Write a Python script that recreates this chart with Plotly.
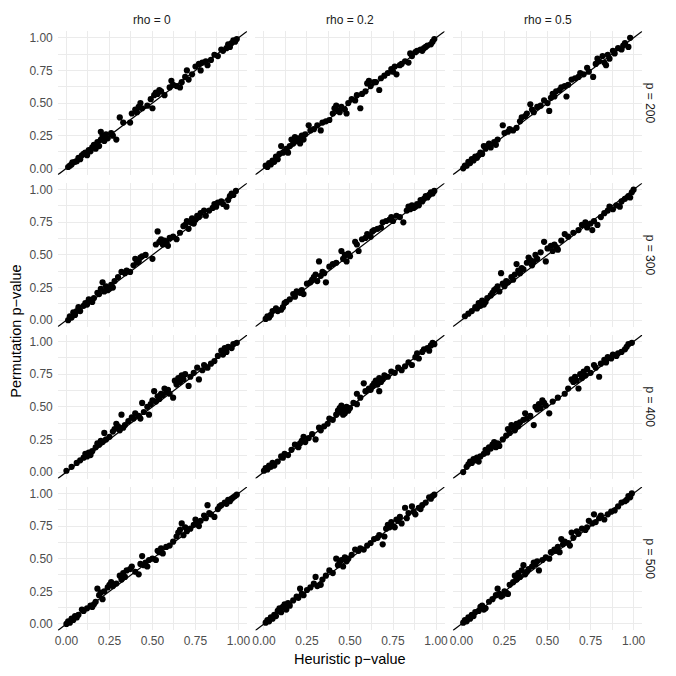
import plotly.graph_objects as go

# ---------------- data ----------------
rho_labels = ["rho = 0", "rho = 0.2", "rho = 0.5"]
p_labels = ["p = 200", "p = 300", "p = 400", "p = 500"]
tick_vals = [0, 0.25, 0.5, 0.75, 1.0]
tick_text = ["0.00", "0.25", "0.50", "0.75", "1.00"]
minor_vals = [0.125, 0.375, 0.625, 0.875]

heur_p200_rho0 = [0.01,0.02,0.03,0.035,0.05,0.06,0.07,0.08,0.09,0.10,0.11,0.12,0.13,0.14,0.15,0.16,0.17,0.18,0.19,0.20,0.20,0.21,0.22,0.23,0.24,0.26,0.27,0.29,0.31,0.33,0.37,0.38,0.40,0.41,0.42,0.43,0.44,0.47,0.49,0.50,0.51,0.52,0.53,0.54,0.55,0.57,0.60,0.61,0.62,0.64,0.66,0.67,0.69,0.70,0.71,0.73,0.75,0.77,0.78,0.79,0.81,0.82,0.84,0.86,0.88,0.90,0.91,0.93,0.94,0.95,0.96,0.97,0.98,0.99]
perm_p200_rho0 = [0.01,0.02,0.03,0.045,0.05,0.055,0.08,0.07,0.10,0.11,0.12,0.10,0.14,0.13,0.16,0.18,0.15,0.20,0.17,0.22,0.28,0.25,0.21,0.26,0.23,0.27,0.25,0.22,0.39,0.35,0.35,0.42,0.45,0.43,0.47,0.50,0.46,0.48,0.53,0.46,0.56,0.58,0.57,0.60,0.59,0.56,0.62,0.67,0.64,0.63,0.62,0.66,0.70,0.75,0.68,0.72,0.78,0.80,0.75,0.81,0.82,0.79,0.83,0.87,0.86,0.91,0.90,0.92,0.95,0.93,0.96,0.98,0.97,0.99]

heur_p200_rho02 = [0.01,0.02,0.03,0.04,0.05,0.06,0.07,0.08,0.09,0.10,0.11,0.12,0.13,0.14,0.15,0.16,0.17,0.18,0.19,0.20,0.21,0.22,0.23,0.24,0.26,0.27,0.29,0.31,0.33,0.34,0.36,0.38,0.40,0.41,0.42,0.43,0.44,0.45,0.47,0.48,0.49,0.51,0.53,0.54,0.56,0.57,0.59,0.60,0.61,0.62,0.64,0.65,0.67,0.68,0.70,0.72,0.74,0.75,0.76,0.77,0.79,0.80,0.82,0.84,0.85,0.86,0.88,0.89,0.91,0.92,0.93,0.94,0.95,0.97,0.98,0.99]
perm_p200_rho02 = [0.02,0.01,0.04,0.03,0.06,0.05,0.09,0.07,0.11,0.17,0.12,0.13,0.15,0.12,0.17,0.22,0.19,0.24,0.21,0.23,0.19,0.25,0.22,0.26,0.33,0.29,0.30,0.33,0.29,0.35,0.36,0.37,0.42,0.46,0.48,0.44,0.43,0.47,0.45,0.42,0.50,0.53,0.52,0.56,0.46,0.57,0.59,0.65,0.67,0.63,0.66,0.66,0.60,0.69,0.71,0.73,0.76,0.74,0.78,0.72,0.79,0.80,0.82,0.81,0.88,0.86,0.89,0.90,0.91,0.90,0.92,0.93,0.94,0.95,0.97,0.99]

heur_p200_rho05 = [0.01,0.02,0.03,0.04,0.05,0.06,0.07,0.08,0.09,0.10,0.11,0.12,0.13,0.14,0.15,0.16,0.17,0.19,0.20,0.21,0.24,0.25,0.27,0.28,0.30,0.32,0.34,0.35,0.37,0.38,0.40,0.41,0.42,0.44,0.46,0.48,0.50,0.51,0.52,0.53,0.54,0.55,0.57,0.58,0.60,0.61,0.62,0.64,0.66,0.68,0.69,0.71,0.73,0.74,0.765,0.78,0.79,0.80,0.82,0.83,0.84,0.85,0.86,0.88,0.89,0.91,0.93,0.94,0.95,0.97,0.98]
perm_p200_rho05 = [0.00,0.02,0.02,0.05,0.04,0.07,0.06,0.09,0.08,0.10,0.12,0.11,0.17,0.15,0.17,0.19,0.16,0.20,0.18,0.22,0.33,0.27,0.28,0.30,0.29,0.31,0.36,0.39,0.40,0.42,0.49,0.45,0.43,0.47,0.48,0.52,0.50,0.44,0.54,0.57,0.55,0.59,0.60,0.62,0.63,0.55,0.64,0.68,0.69,0.70,0.73,0.72,0.77,0.74,0.70,0.80,0.84,0.82,0.86,0.81,0.79,0.87,0.84,0.90,0.88,0.92,0.91,0.94,0.96,0.93,1.00]

heur_p300_rho0 = [0.01,0.02,0.03,0.04,0.05,0.06,0.07,0.08,0.10,0.11,0.12,0.13,0.14,0.15,0.16,0.18,0.19,0.20,0.21,0.22,0.23,0.24,0.25,0.26,0.27,0.28,0.30,0.32,0.34,0.35,0.37,0.39,0.40,0.41,0.42,0.43,0.44,0.46,0.50,0.52,0.53,0.54,0.55,0.56,0.57,0.58,0.59,0.60,0.62,0.64,0.66,0.68,0.69,0.70,0.71,0.72,0.73,0.74,0.75,0.76,0.77,0.78,0.80,0.81,0.83,0.85,0.86,0.87,0.88,0.90,0.91,0.93,0.94,0.95,0.96,0.97,0.985]
perm_p300_rho0 = [0.00,0.03,0.02,0.06,0.04,0.07,0.10,0.07,0.11,0.13,0.12,0.16,0.15,0.14,0.17,0.21,0.20,0.24,0.29,0.22,0.26,0.23,0.24,0.27,0.25,0.30,0.33,0.37,0.36,0.38,0.37,0.42,0.47,0.44,0.45,0.48,0.49,0.50,0.47,0.58,0.68,0.60,0.62,0.58,0.61,0.60,0.57,0.63,0.64,0.62,0.67,0.72,0.73,0.76,0.70,0.75,0.78,0.74,0.77,0.80,0.79,0.82,0.84,0.80,0.84,0.86,0.89,0.87,0.90,0.91,0.89,0.87,0.92,0.95,0.97,0.96,0.99]

heur_p300_rho02 = [0.01,0.02,0.03,0.04,0.05,0.07,0.08,0.10,0.11,0.12,0.13,0.15,0.17,0.18,0.19,0.21,0.22,0.23,0.25,0.27,0.28,0.29,0.30,0.31,0.32,0.33,0.34,0.35,0.36,0.38,0.40,0.42,0.45,0.46,0.47,0.48,0.49,0.50,0.53,0.54,0.55,0.57,0.59,0.60,0.62,0.63,0.64,0.66,0.68,0.69,0.71,0.73,0.74,0.75,0.77,0.79,0.81,0.83,0.84,0.85,0.86,0.87,0.88,0.89,0.90,0.91,0.92,0.93,0.94,0.95,0.96,0.97,0.98,0.99]
perm_p300_rho02 = [0.01,0.03,0.02,0.04,0.07,0.09,0.07,0.08,0.10,0.13,0.14,0.16,0.20,0.18,0.22,0.21,0.23,0.20,0.28,0.29,0.31,0.33,0.35,0.30,0.45,0.34,0.37,0.36,0.29,0.41,0.43,0.44,0.53,0.47,0.50,0.45,0.51,0.49,0.60,0.58,0.53,0.62,0.63,0.66,0.64,0.68,0.69,0.70,0.71,0.75,0.76,0.77,0.79,0.76,0.80,0.79,0.75,0.84,0.87,0.85,0.88,0.86,0.87,0.89,0.88,0.92,0.91,0.93,0.95,0.94,0.96,0.98,0.97,0.99]

heur_p300_rho05 = [0.02,0.04,0.06,0.08,0.09,0.10,0.11,0.12,0.13,0.14,0.15,0.17,0.18,0.19,0.20,0.21,0.22,0.23,0.24,0.25,0.26,0.27,0.29,0.30,0.31,0.32,0.33,0.34,0.35,0.36,0.38,0.39,0.40,0.41,0.42,0.43,0.44,0.46,0.48,0.49,0.50,0.52,0.53,0.54,0.55,0.56,0.58,0.60,0.62,0.65,0.68,0.70,0.72,0.73,0.75,0.76,0.77,0.79,0.81,0.83,0.85,0.86,0.88,0.90,0.92,0.93,0.95,0.97,0.98,0.99,1.00]
perm_p300_rho05 = [0.03,0.05,0.07,0.10,0.09,0.13,0.11,0.15,0.12,0.14,0.17,0.19,0.21,0.23,0.24,0.26,0.22,0.36,0.28,0.26,0.30,0.29,0.33,0.31,0.35,0.43,0.38,0.36,0.40,0.39,0.44,0.48,0.46,0.42,0.45,0.50,0.47,0.52,0.60,0.45,0.55,0.57,0.53,0.58,0.56,0.54,0.61,0.66,0.64,0.67,0.69,0.73,0.75,0.71,0.74,0.69,0.76,0.73,0.79,0.82,0.84,0.87,0.85,0.88,0.87,0.91,0.93,0.95,0.94,0.98,1.00]

heur_p400_rho0 = [0.00,0.03,0.06,0.08,0.10,0.11,0.12,0.13,0.14,0.15,0.17,0.18,0.19,0.20,0.21,0.22,0.23,0.25,0.27,0.28,0.29,0.30,0.31,0.32,0.33,0.34,0.36,0.38,0.39,0.40,0.42,0.43,0.44,0.45,0.47,0.48,0.49,0.50,0.51,0.52,0.53,0.54,0.55,0.56,0.57,0.58,0.59,0.60,0.62,0.63,0.64,0.65,0.66,0.67,0.68,0.69,0.71,0.72,0.74,0.76,0.77,0.79,0.80,0.82,0.84,0.86,0.88,0.90,0.91,0.92,0.93,0.94,0.96,0.97,0.99]
perm_p400_rho0 = [0.01,0.04,0.07,0.09,0.11,0.14,0.12,0.15,0.13,0.16,0.19,0.22,0.21,0.24,0.23,0.30,0.25,0.27,0.31,0.33,0.37,0.35,0.32,0.44,0.34,0.36,0.39,0.42,0.41,0.45,0.43,0.41,0.53,0.46,0.50,0.44,0.52,0.55,0.62,0.54,0.58,0.56,0.60,0.59,0.64,0.61,0.63,0.60,0.57,0.70,0.67,0.72,0.69,0.74,0.71,0.75,0.66,0.73,0.76,0.80,0.71,0.78,0.82,0.80,0.83,0.85,0.89,0.93,0.90,0.95,0.92,0.96,0.95,0.98,0.99]

heur_p400_rho02 = [0.00,0.01,0.02,0.03,0.04,0.05,0.06,0.08,0.10,0.11,0.12,0.14,0.16,0.18,0.20,0.21,0.22,0.23,0.24,0.26,0.28,0.30,0.32,0.33,0.35,0.37,0.38,0.40,0.42,0.43,0.44,0.45,0.45,0.46,0.47,0.47,0.48,0.49,0.50,0.52,0.54,0.54,0.56,0.58,0.59,0.61,0.62,0.63,0.64,0.65,0.66,0.67,0.67,0.68,0.69,0.70,0.72,0.74,0.76,0.78,0.80,0.82,0.84,0.86,0.88,0.89,0.90,0.92,0.93,0.95,0.96,0.97,0.98,0.99]
perm_p400_rho02 = [0.01,0.03,0.02,0.05,0.04,0.07,0.05,0.08,0.12,0.11,0.14,0.13,0.17,0.21,0.19,0.22,0.24,0.27,0.23,0.26,0.29,0.25,0.34,0.32,0.35,0.37,0.41,0.40,0.44,0.47,0.49,0.46,0.51,0.44,0.48,0.45,0.50,0.47,0.49,0.53,0.52,0.60,0.57,0.68,0.62,0.64,0.63,0.66,0.68,0.70,0.67,0.62,0.72,0.69,0.71,0.74,0.73,0.77,0.76,0.80,0.78,0.81,0.84,0.82,0.88,0.91,0.87,0.92,0.94,0.95,0.93,0.97,0.99,0.98]

heur_p400_rho05 = [0.01,0.03,0.04,0.05,0.06,0.07,0.08,0.09,0.10,0.11,0.13,0.14,0.15,0.16,0.17,0.18,0.19,0.20,0.21,0.22,0.24,0.26,0.27,0.28,0.29,0.30,0.31,0.32,0.33,0.34,0.36,0.37,0.38,0.40,0.42,0.43,0.44,0.45,0.46,0.47,0.48,0.49,0.51,0.53,0.56,0.60,0.62,0.64,0.65,0.66,0.67,0.68,0.69,0.70,0.71,0.72,0.73,0.75,0.77,0.78,0.80,0.81,0.83,0.84,0.85,0.87,0.88,0.90,0.91,0.93,0.95,0.96,0.97,0.99]
perm_p400_rho05 = [0.00,0.04,0.06,0.08,0.07,0.10,0.09,0.11,0.08,0.12,0.14,0.17,0.15,0.19,0.18,0.21,0.23,0.19,0.22,0.20,0.25,0.28,0.33,0.30,0.36,0.34,0.32,0.37,0.35,0.38,0.40,0.45,0.41,0.43,0.36,0.50,0.48,0.52,0.49,0.55,0.53,0.51,0.45,0.54,0.57,0.60,0.64,0.71,0.69,0.73,0.70,0.64,0.75,0.72,0.77,0.74,0.79,0.76,0.82,0.80,0.73,0.83,0.86,0.84,0.88,0.87,0.90,0.89,0.91,0.92,0.94,0.96,0.98,0.99]

heur_p500_rho0 = [0.00,0.01,0.02,0.03,0.04,0.05,0.06,0.07,0.09,0.10,0.12,0.14,0.15,0.16,0.17,0.18,0.19,0.20,0.21,0.22,0.24,0.25,0.26,0.27,0.29,0.31,0.32,0.33,0.34,0.35,0.37,0.38,0.40,0.42,0.43,0.44,0.45,0.46,0.47,0.48,0.50,0.52,0.53,0.54,0.55,0.56,0.58,0.60,0.62,0.64,0.65,0.66,0.67,0.68,0.69,0.70,0.72,0.74,0.75,0.76,0.77,0.78,0.80,0.81,0.82,0.83,0.84,0.86,0.88,0.89,0.90,0.92,0.93,0.94,0.95,0.96,0.97,0.98,0.99]
perm_p500_rho0 = [0.00,0.02,0.01,0.04,0.03,0.06,0.05,0.07,0.11,0.10,0.12,0.14,0.13,0.15,0.17,0.27,0.22,0.24,0.19,0.25,0.28,0.30,0.32,0.29,0.31,0.37,0.34,0.39,0.36,0.41,0.42,0.44,0.40,0.38,0.46,0.52,0.45,0.47,0.44,0.49,0.50,0.49,0.56,0.55,0.58,0.54,0.59,0.60,0.63,0.67,0.70,0.72,0.77,0.68,0.74,0.71,0.73,0.76,0.80,0.77,0.75,0.79,0.83,0.81,0.91,0.85,0.84,0.82,0.88,0.90,0.91,0.93,0.92,0.95,0.94,0.96,0.97,0.98,0.99]

heur_p500_rho02 = [0.01,0.02,0.03,0.04,0.05,0.06,0.07,0.08,0.09,0.10,0.11,0.12,0.13,0.14,0.15,0.17,0.19,0.20,0.21,0.22,0.23,0.25,0.27,0.29,0.30,0.31,0.33,0.34,0.36,0.38,0.40,0.42,0.43,0.44,0.45,0.46,0.47,0.48,0.49,0.51,0.53,0.55,0.56,0.58,0.60,0.62,0.64,0.66,0.67,0.69,0.70,0.71,0.72,0.73,0.74,0.75,0.76,0.77,0.78,0.79,0.80,0.82,0.83,0.84,0.86,0.87,0.88,0.90,0.91,0.92,0.94,0.96,0.97,0.98,0.99]
perm_p500_rho02 = [0.01,0.03,0.02,0.05,0.04,0.07,0.06,0.10,0.12,0.09,0.13,0.15,0.11,0.16,0.14,0.18,0.21,0.20,0.27,0.23,0.22,0.26,0.28,0.31,0.36,0.29,0.30,0.34,0.37,0.41,0.39,0.50,0.45,0.47,0.49,0.44,0.51,0.48,0.50,0.53,0.57,0.56,0.58,0.57,0.60,0.62,0.65,0.66,0.68,0.61,0.67,0.73,0.76,0.74,0.78,0.75,0.74,0.80,0.79,0.82,0.77,0.89,0.81,0.85,0.90,0.86,0.84,0.89,0.88,0.91,0.93,0.97,0.96,0.98,0.99]

heur_p500_rho05 = [0.01,0.02,0.03,0.04,0.05,0.06,0.07,0.08,0.10,0.11,0.12,0.13,0.14,0.16,0.18,0.20,0.21,0.22,0.23,0.24,0.25,0.26,0.27,0.28,0.30,0.31,0.32,0.33,0.34,0.35,0.36,0.37,0.38,0.39,0.41,0.42,0.43,0.44,0.45,0.47,0.49,0.51,0.52,0.54,0.55,0.56,0.57,0.58,0.59,0.60,0.62,0.63,0.64,0.65,0.67,0.68,0.70,0.72,0.73,0.74,0.76,0.77,0.78,0.80,0.81,0.83,0.85,0.87,0.89,0.91,0.93,0.95,0.96,0.97,0.98,0.99]
perm_p500_rho05 = [0.01,0.03,0.02,0.05,0.04,0.07,0.06,0.09,0.10,0.13,0.14,0.11,0.12,0.17,0.19,0.22,0.27,0.23,0.21,0.22,0.25,0.24,0.23,0.30,0.32,0.37,0.34,0.39,0.36,0.41,0.45,0.38,0.40,0.42,0.44,0.47,0.46,0.48,0.41,0.49,0.51,0.50,0.55,0.57,0.56,0.59,0.55,0.65,0.61,0.63,0.62,0.60,0.70,0.66,0.71,0.69,0.73,0.72,0.74,0.79,0.77,0.84,0.78,0.81,0.83,0.80,0.84,0.86,0.87,0.90,0.93,0.94,0.95,0.98,0.97,1.00]

panels = [
    [(heur_p200_rho0, perm_p200_rho0), (heur_p200_rho02, perm_p200_rho02), (heur_p200_rho05, perm_p200_rho05)],
    [(heur_p300_rho0, perm_p300_rho0), (heur_p300_rho02, perm_p300_rho02), (heur_p300_rho05, perm_p300_rho05)],
    [(heur_p400_rho0, perm_p400_rho0), (heur_p400_rho02, perm_p400_rho02), (heur_p400_rho05, perm_p400_rho05)],
    [(heur_p500_rho0, perm_p500_rho0), (heur_p500_rho02, perm_p500_rho02), (heur_p500_rho05, perm_p500_rho05)],
]

# ---------------- layout geometry (pixels) ----------------
W = H = 676
col_left = [55.3, 254.6, 453.9]
panel_w = 191.0
row_top = [31.3, 183.4, 335.5, 487.6]
panel_h = 143.8
axis_range = [-0.05, 1.05]

FONT = "Liberation Sans, Arial, Helvetica, sans-serif"
GRID = "#EBEBEB"

fig = go.Figure()
layout = dict(
    width=W, height=H,
    margin=dict(l=0, r=0, t=0, b=0),
    paper_bgcolor="white", plot_bgcolor="white",
    showlegend=False,
    font=dict(family=FONT, color="#4D4D4D"),
)
shapes = []
annotations = []

idx = 0
for r in range(4):
    for c in range(3):
        idx += 1
        xname = "x" if idx == 1 else f"x{idx}"
        yname = "y" if idx == 1 else f"y{idx}"
        xs, ys = panels[r][c]
        n = min(len(xs), len(ys))
        fig.add_trace(go.Scatter(
            x=xs[:n], y=ys[:n], mode="markers",
            marker=dict(color="black", size=6.2, line=dict(width=0)),
            xaxis=xname, yaxis=yname, hoverinfo="x+y",
        ))
        x0 = col_left[c] / W
        x1 = (col_left[c] + panel_w) / W
        y1 = 1 - row_top[r] / H
        y0 = 1 - (row_top[r] + panel_h) / H
        common = dict(
            range=axis_range, tickvals=tick_vals, ticktext=tick_text,
            showgrid=True, gridcolor=GRID, gridwidth=1.3,
            minor=dict(tickvals=minor_vals, showgrid=True, gridcolor=GRID, gridwidth=0.65),
            zeroline=False, showline=False, ticks="",
            tickfont=dict(size=12, color="#4D4D4D", family=FONT),
            fixedrange=True,
        )
        layout["xaxis" if idx == 1 else f"xaxis{idx}"] = dict(
            common, domain=[x0, x1], anchor=yname, showticklabels=(r == 3),
            ticklabelstandoff=2,
        )
        layout["yaxis" if idx == 1 else f"yaxis{idx}"] = dict(
            common, domain=[y0, y1], anchor=xname, showticklabels=(c == 0),
            ticklabelstandoff=4,
        )
        # y = x reference line spanning the panel
        shapes.append(dict(
            type="line", xref=xname, yref=yname,
            x0=axis_range[0], y0=axis_range[0], x1=axis_range[1], y1=axis_range[1],
            line=dict(color="black", width=1.2), layer="above",
        ))

# strip labels (top)
for c, lab in enumerate(rho_labels):
    annotations.append(dict(
        text=lab, xref="paper", yref="paper",
        x=(col_left[c] + panel_w / 2) / W, y=1 - 20.3 / H,
        showarrow=False, xanchor="center", yanchor="middle",
        font=dict(size=12, color="#1A1A1A", family=FONT),
    ))
# strip labels (right)
for r, lab in enumerate(p_labels):
    annotations.append(dict(
        text=lab, xref="paper", yref="paper",
        x=653 / W, y=1 - (row_top[r] + panel_h / 2) / H,
        showarrow=False, xanchor="center", yanchor="middle", textangle=90,
        font=dict(size=12, color="#1A1A1A", family=FONT),
    ))
# axis titles
annotations.append(dict(
    text="Heuristic p\u2212value", xref="paper", yref="paper",
    x=(col_left[0] + col_left[2] + panel_w) / 2 / W, y=1 - 660 / H,
    showarrow=False, xanchor="center", yanchor="middle",
    font=dict(size=14.5, color="black", family=FONT),
))
annotations.append(dict(
    text="Permutation p\u2212value", xref="paper", yref="paper",
    x=13 / W, y=1 - (row_top[0] + row_top[3] + panel_h) / 2 / H,
    showarrow=False, xanchor="center", yanchor="middle", textangle=-90,
    font=dict(size=14.5, color="black", family=FONT),
))

layout["shapes"] = shapes
layout["annotations"] = annotations
fig.update_layout(**layout)

fig.write_html(
    "out.html",
    config={"displayModeBar": False},
    post_script="document.documentElement.style.margin='0';document.body.style.margin='0';document.body.style.padding='0';document.body.style.overflow='hidden';",
)
